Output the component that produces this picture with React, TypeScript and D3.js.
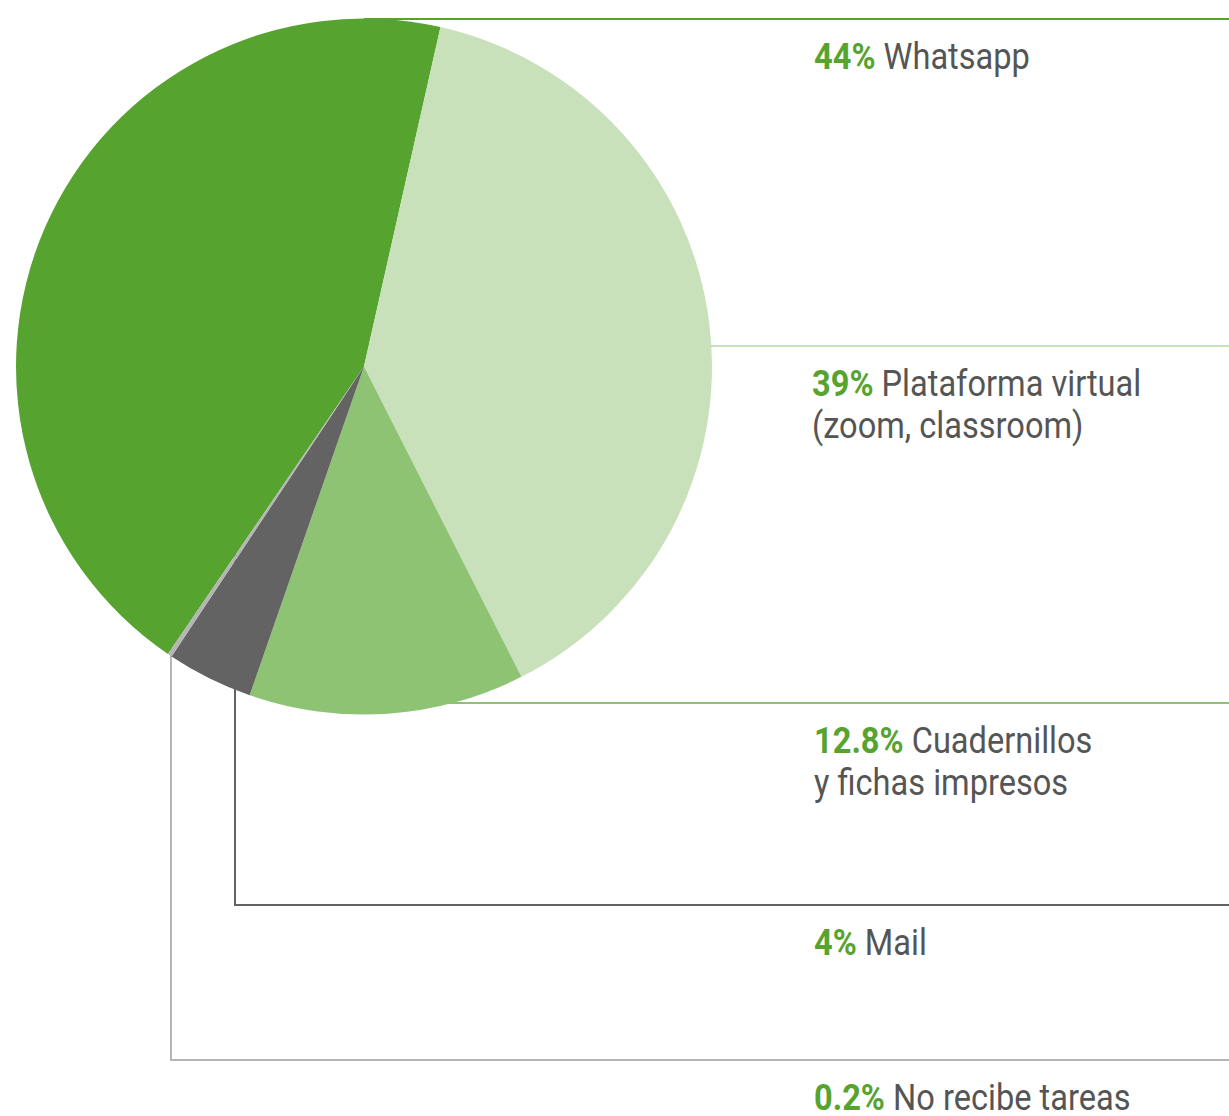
import React from "react";
import * as d3 from "d3";

const categories = ["Whatsapp", "Plataforma virtual", "Cuadernillos", "Mail", "No recibe tareas"];
const values = [44, 39, 12.8, 4, 0.2];
const pctLabels = ["44%", "39%", "12.8%", "4%", "0.2%"];
const labelLines = [
  ["Whatsapp"],
  ["Plataforma virtual", "(zoom, classroom)"],
  ["Cuadernillos", "y fichas impresos"],
  ["Mail"],
  ["No recibe tareas"],
];
const colors = ["#57a32f", "#c9e1bb", "#8ec374", "#636363", "#b5b5b5"];

// layout
const W = 1229, H = 1116;
const cx = 364, cy = 366.5, R = 348;
const startDeg = 214.3;
const leaderY = [19, 346, 703, 905, 1060];
const leaderX = [null, null, null, 235, 171];
const labelX = [814, 812, 814, 814, 814];
const FS = 36;
const SX = 0.905;

export default function App() {
  const pie = d3
    .pie<number>()
    .sort(null)
    .value((d) => d)
    .startAngle((startDeg * Math.PI) / 180)
    .endAngle(((startDeg + 360) * Math.PI) / 180);
  const arcs = pie(values);
  const arc = d3.arc<d3.PieArcDatum<number>>().innerRadius(0).outerRadius(R);

  return (
    <div style={{ position: "absolute", left: 0, top: 0 }}>
      <svg width={W} height={H} style={{ display: "block" }}>
        <g>
          {leaderY.map((y, i) => {
            const vx = leaderX[i];
            const d = vx == null ? `M${cx},${y}H${W}` : `M${vx},${cy}V${y}H${W}`;
            return <path key={i} d={d} fill="none" stroke={colors[i]} strokeWidth={2} />;
          })}
        </g>
        <g transform={`translate(${cx},${cy})`}>
          {arcs.map((a, i) => (
            <path key={i} d={arc(a) || ""} fill={colors[i]} />
          ))}
        </g>
        <g fontFamily="Roboto, sans-serif" fontSize={FS}>
          {categories.map((c, i) => {
            const y0 = leaderY[i] + 50;
            return (
              <text key={c} transform={`translate(${labelX[i]},${y0}) scale(${SX},1)`}>
                {labelLines[i].map((ln, j) => (
                  <tspan key={j} x={0} y={j * 42}>
                    {j === 0 ? (
                      <>
                        <tspan fontWeight="bold" fill="#57a32f">{pctLabels[i]}</tspan>
                        <tspan fill="#555555">{" " + ln}</tspan>
                      </>
                    ) : (
                      <tspan fill="#555555">{ln}</tspan>
                    )}
                  </tspan>
                ))}
              </text>
            );
          })}
        </g>
      </svg>
    </div>
  );
}
